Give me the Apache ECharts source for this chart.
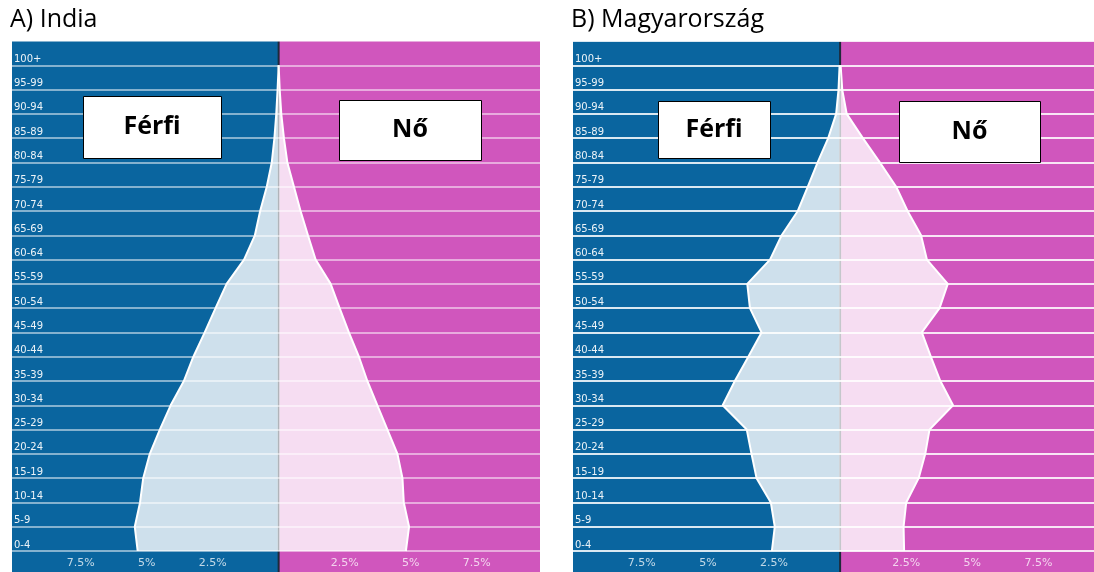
<!DOCTYPE html>
<html>
<head>
<meta charset="utf-8">
<script src="https://cdn.jsdelivr.net/npm/echarts@6/dist/echarts.min.js"></script>
<style>
  html, body { margin: 0; padding: 0; background: #fff; }
  #main { width: 1094px; height: 572px; }
</style>
</head>
<body>
<div id="main"></div>
<script>
// age groups, bottom to top
const ages = ['0-4', '5-9', '10-14', '15-19', '20-24', '25-29', '30-34', '35-39', '40-44', '45-49',
  '50-54', '55-59', '60-64', '65-69', '70-74', '75-79', '80-84', '85-89', '90-94', '95-99', '100+'];
const axisCats = ages.concat(['']); // empty slot above 100+

// share of population in %
const indiaMale = [5.34, 5.45, 5.25, 5.13, 4.88, 4.50, 4.09, 3.59, 3.23, 2.80, 2.39, 1.97, 1.31, 0.90, 0.70, 0.45, 0.26, 0.16, 0.09, 0.04, 0];
const indiaFemale = [4.82, 4.94, 4.74, 4.69, 4.50, 4.12, 3.74, 3.36, 3.04, 2.66, 2.31, 1.97, 1.40, 1.11, 0.83, 0.58, 0.33, 0.20, 0.10, 0.04, 0];
const hungaryMale = [2.58, 2.47, 2.62, 3.16, 3.35, 3.53, 4.44, 3.98, 3.47, 2.97, 3.41, 3.51, 2.65, 2.21, 1.60, 1.22, 0.85, 0.45, 0.15, 0.06, 0.02];
const hungaryFemale = [2.42, 2.40, 2.50, 2.97, 3.22, 3.38, 4.27, 3.79, 3.43, 3.09, 3.76, 4.07, 3.28, 3.06, 2.55, 2.12, 1.50, 0.86, 0.25, 0.08, 0.02];

const tickValues = [-7.5, -5, -2.5, 2.5, 5, 7.5];

const BLUE = '#0a659f';
const PINK = '#d056bd';
const TOP = 41, PLOT_BOTTOM = 551, H = 572;

const panels = [
  { title: 'A) India', titleX: 10, left: 12, width: 528, min: -10.1, max: 9.9, gridAlpha: 0.5,
    male: indiaMale, female: indiaFemale,
    boxes: [{ x: 83, y: 96, w: 138, h: 62, text: 'Férfi' }, { x: 339, y: 100, w: 142, h: 60, text: 'Nő' }] },
  { title: 'B) Magyarország', titleX: 571, left: 573, width: 521, min: -10.1, max: 9.6, gridAlpha: 0.85,
    male: hungaryMale, female: hungaryFemale,
    boxes: [{ x: 658, y: 101, w: 112, h: 57, text: 'Férfi' }, { x: 899, y: 101, w: 141, h: 61, text: 'Nő' }] }
];

const chart = echarts.init(document.getElementById('main'));

const option = {
  animation: false,
  grid: panels.map(p => ({ left: p.left, width: p.width, top: TOP, height: PLOT_BOTTOM - TOP })),
  xAxis: panels.map((p, i) => ({
    type: 'value',
    gridIndex: i,
    min: p.min,
    max: p.max,
    position: 'bottom',
    offset: H - PLOT_BOTTOM,
    axisLine: { show: false },
    splitLine: { show: false },
    axisTick: { inside: true, length: 7, customValues: tickValues,
      lineStyle: { color: 'rgba(255,255,255,0.6)', width: 1.5 } },
    axisLabel: { inside: true, margin: 3, customValues: tickValues,
      fontFamily: 'DejaVu Sans', fontSize: 11, color: 'rgba(255,255,255,0.75)',
      formatter: v => Math.abs(v) + '%' }
  })),
  yAxis: panels.map((p, i) => ({
    type: 'category',
    gridIndex: i,
    data: axisCats,
    boundaryGap: false,
    axisLine: { show: false },
    axisTick: { show: false },
    axisLabel: { inside: true, interval: 0, margin: 2, align: 'left', verticalAlign: 'bottom',
      padding: [0, 0, 1, 0], fontFamily: 'DejaVu Sans', fontSize: 10, color: 'rgba(255,255,255,0.92)' },
    splitLine: { show: true, interval: 0,
      lineStyle: { color: 'rgba(255,255,255,' + p.gridAlpha + ')', width: 2 } }
  })),
  series: []
};

panels.forEach((p, i) => {
  [p.male.map(v => -v), p.female].forEach(values => {
    option.series.push({
      type: 'line',
      xAxisIndex: i,
      yAxisIndex: i,
      data: values,
      symbol: 'none',
      z: 3,
      lineStyle: { color: '#fff', width: 2 },
      areaStyle: { color: '#fff', opacity: 0.8 }
    });
  });
});

chart.setOption(option);

// background halves, centre line, titles and label boxes
const elements = [];
panels.forEach((p, i) => {
  const x0 = chart.convertToPixel({ xAxisIndex: i }, 0);
  const right = p.left + p.width;
  elements.push(
    { type: 'rect', z: -10, silent: true, shape: { x: p.left, y: TOP, width: x0 - p.left, height: H - TOP }, style: { fill: BLUE } },
    { type: 'rect', z: -10, silent: true, shape: { x: x0, y: TOP, width: right - x0, height: H - TOP }, style: { fill: PINK } },
    { type: 'rect', z: -9, silent: true, shape: { x: x0 - 1, y: TOP, width: 2, height: H - TOP }, style: { fill: '#1e2a3a' } },
    { type: 'text', z: 100, style: { text: p.title, x: p.titleX, y: 7, fill: '#000',
      font: '25px "Open Sans", sans-serif', verticalAlign: 'top' } }
  );
  p.boxes.forEach(b => {
    elements.push(
      { type: 'rect', z: 100, shape: { x: b.x + 0.5, y: b.y + 0.5, width: b.w, height: b.h },
        style: { fill: '#fff', stroke: '#000', lineWidth: 1 } },
      { type: 'text', z: 101, style: { text: b.text, x: b.x + b.w / 2, y: b.y + b.h / 2, fill: '#000',
        font: 'bold 25px "Open Sans", sans-serif', align: 'center', verticalAlign: 'middle' } }
    );
  });
});

chart.setOption({ graphic: { elements: elements } });
</script>
</body>
</html>
